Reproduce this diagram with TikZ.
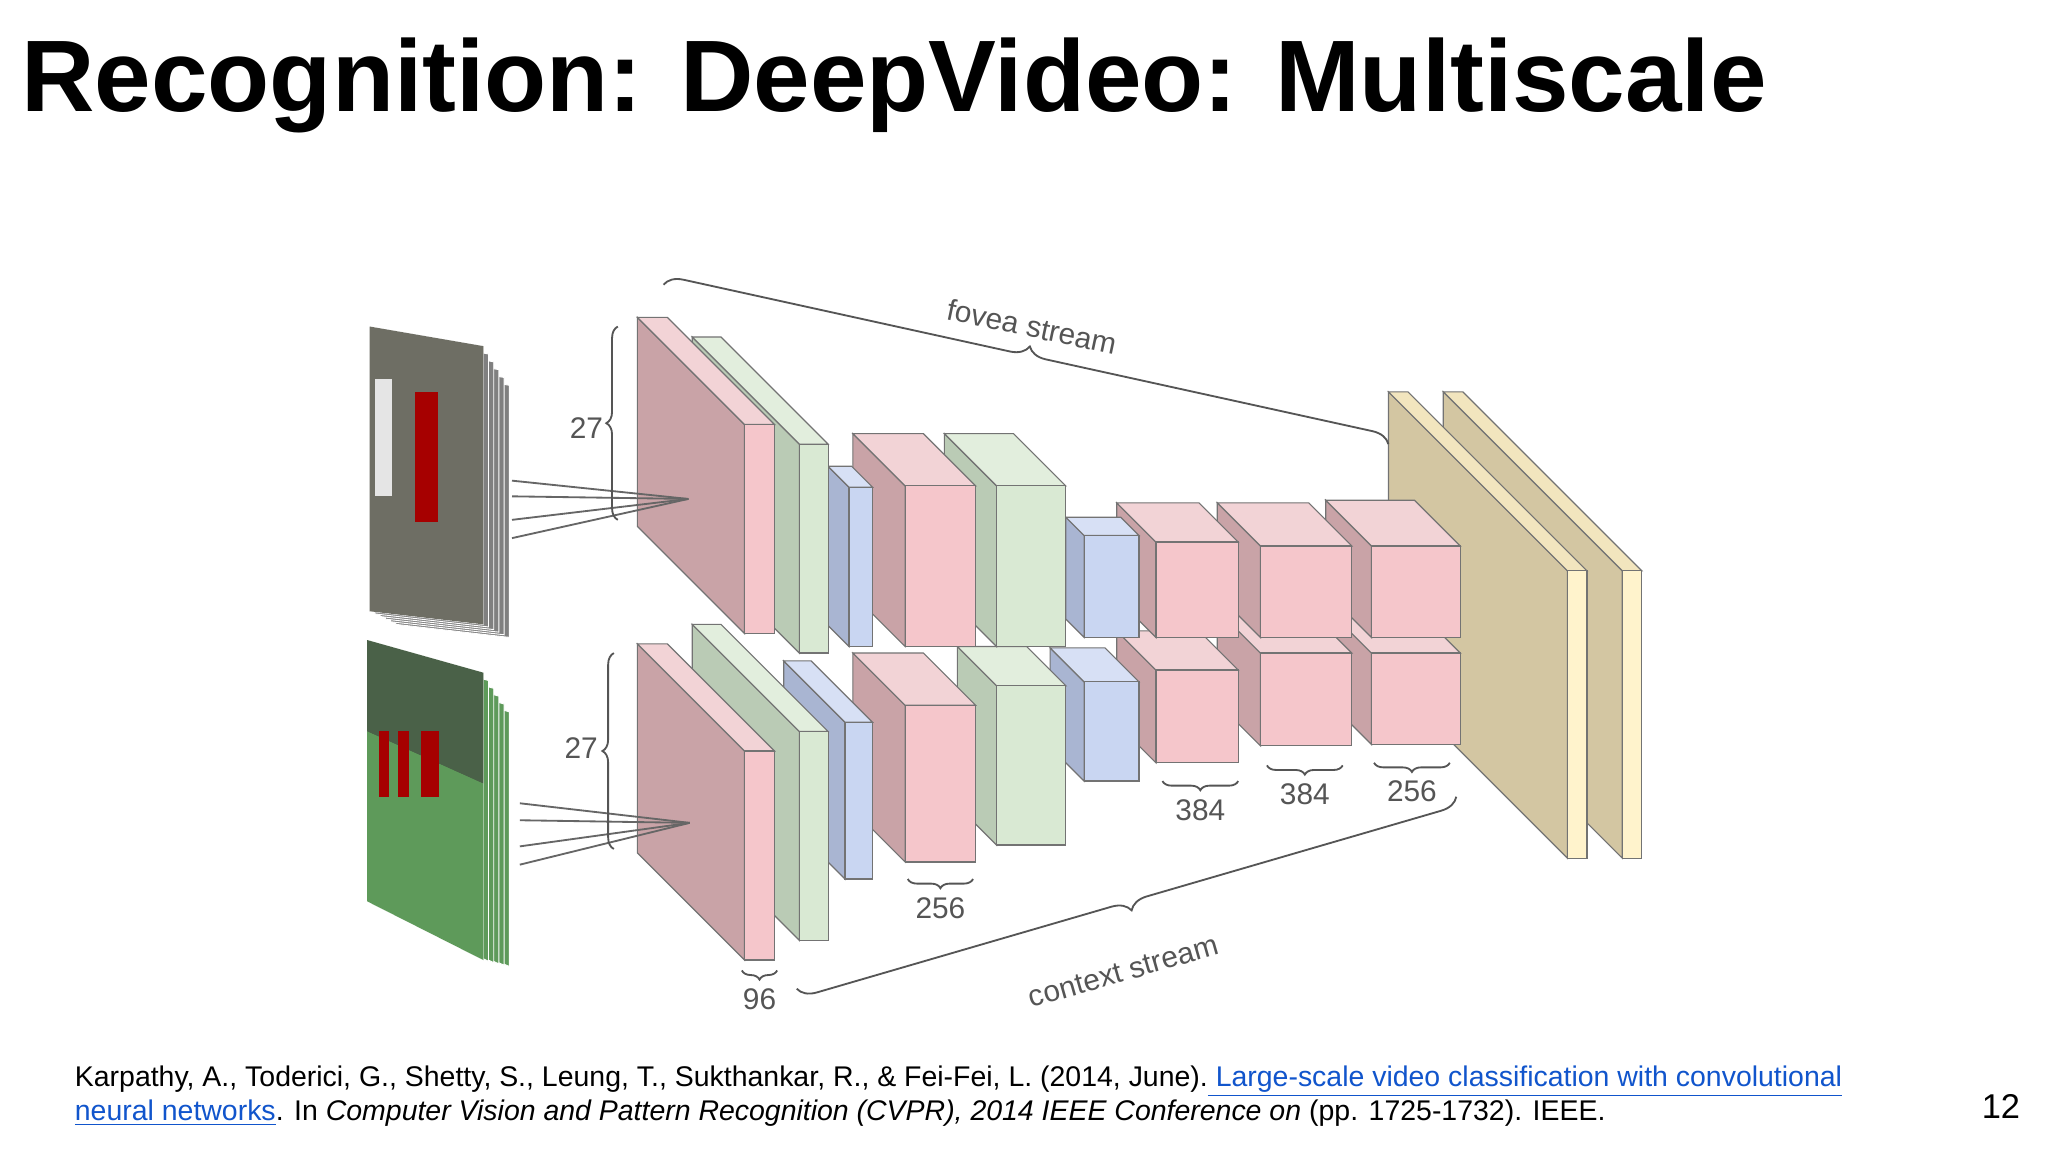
\documentclass[tikz,border=0pt]{standalone}
\usepackage{fontspec}
\setmainfont{Liberation Sans}
\usetikzlibrary{decorations.pathreplacing}
\definecolor{rF}{HTML}{F5C6CB}\definecolor{rS}{HTML}{C9A3A7}\definecolor{rT}{HTML}{F2D3D6}
\definecolor{gF}{HTML}{D9E9D3}\definecolor{gS}{HTML}{BACBB5}\definecolor{gT}{HTML}{E2EEDD}
\definecolor{bF}{HTML}{C9D6F2}\definecolor{bS}{HTML}{A9B5D2}\definecolor{bT}{HTML}{D7E0F5}
\definecolor{tS}{HTML}{D3C6A2}\definecolor{tF}{HTML}{FFF3CC}\definecolor{tT}{HTML}{F2E5BE}
\definecolor{lab}{HTML}{555555}\definecolor{link}{HTML}{1155CC}
\definecolor{grass}{HTML}{5E9A5A}\definecolor{bush}{HTML}{4A6148}\definecolor{track}{HTML}{6E6E64}
\newcommand\cube[8]{%
 \filldraw[edge,fill=#7] (#1,#2)--(#1,#2+#4)--(#1-#5,#2+#4-#5)--(#1-#5,#2-#5)--cycle;
 \filldraw[edge,fill=#8] (#1,#2)--(#1+#3,#2)--(#1+#3-#5,#2-#5)--(#1-#5,#2-#5)--cycle;
 \filldraw[edge,fill=#6] (#1,#2) rectangle (#1+#3,#2+#4);}
\tikzset{edge/.style={draw=black!55,line width=0.5pt},
 lbl/.style={text=lab,font=\fontsize{13}{15}\selectfont},
 brc/.style={draw=lab,line width=0.8pt,decorate,decoration={brace,amplitude=5pt}},
 conn/.style={draw=black!60,line width=0.8pt}}
\begin{document}
\begin{tikzpicture}[x=0.02cm,y=-0.02cm]
\useasboundingbox (0,0) rectangle (1568,882);
\fill[white] (0,0) rectangle (1568,882);
\node[anchor=base west,inner sep=0pt,font=\fontsize{44.3}{50}\selectfont\bfseries] (title) at (16,85) {Recognition: DeepVideo: Multiscale};
% frames
\foreach \i in {5,4,3,2,1,0}{
 \filldraw[draw=white,fill=black!50] (283+\i*4,250+\i*6)--(370+\i*4,265+\i*6)--(370+\i*4,478+\i*2)--(283+\i*4,468+\i*2)--cycle;
 \filldraw[draw=white,fill=grass] (281+\i*4,490+\i*6)--(370+\i*4,515+\i*6)--(370+\i*4,735+\i*1)--(281+\i*4,690+\i*2)--cycle;}
\fill[track] (283,250)--(370,265)--(370,478)--(283,468)--cycle;
\fill[bush] (281,490)--(370,515)--(370,600)--(281,560)--cycle;
\fill[grass] (281,560)--(370,600)--(370,735)--(281,690)--cycle;
\fill[red!65!black] (318,300) rectangle (335,400);
\fill[black!10] (287,290) rectangle (300,380);
\foreach \xx in {290,305,322,328}{\fill[red!65!black] (\xx,560) rectangle (\xx+8,610);}
% tan slabs
\cube{1242}{437}{15}{220}{137}{tF}{tS}{tT}
\cube{1200}{437}{15}{220}{137}{tF}{tS}{tT}
% bottom stream (right to left)
\cube{1050}{500}{68}{70}{35}{rF}{rS}{rT}
\cube{965}{500}{70}{71}{33}{rF}{rS}{rT}
\cube{885}{513}{63}{71}{30}{rF}{rS}{rT}
\cube{830}{522}{42}{76}{26}{bF}{bS}{bT}
\cube{763}{525}{53}{122}{30}{gF}{gS}{gT}
\cube{693}{540}{54}{120}{40}{rF}{rS}{rT}
\cube{647}{553}{21}{120}{47}{bF}{bS}{bT}
\cube{612}{560}{22}{160}{82}{gF}{gS}{gT}
\cube{570}{575}{23}{160}{82}{rF}{rS}{rT}
% top stream
\cube{1050}{418}{68}{70}{35}{rF}{rS}{rT}
\cube{965}{418}{70}{70}{33}{rF}{rS}{rT}
\cube{885}{415}{63}{73}{30}{rF}{rS}{rT}
\cube{830}{410}{42}{78}{14}{bF}{bS}{bT}
\cube{763}{372}{53}{123}{40}{gF}{gS}{gT}
\cube{693}{372}{54}{123}{40}{rF}{rS}{rT}
\cube{650}{373}{18}{122}{16}{bF}{bS}{bT}
\cube{612}{340}{22}{160}{82}{gF}{gS}{gT}
\cube{570}{325}{23}{160}{82}{rF}{rS}{rT}
% connectors
\coordinate (t0) at (527,382); \coordinate (b0) at (528,630);
\foreach \yy in {368,380,398,412}{\coordinate (ta) at (392,\yy); \draw[conn] (ta)--(t0);}
\foreach \yy in {615,628,648,662}{\coordinate (ba) at (398,\yy); \draw[conn] (ba)--(b0);}
% braces
\coordinate (f1) at (508,218); \coordinate (f2) at (1063,340);
\draw[brc,decoration={amplitude=8pt}] (f1)--(f2);
\node[lbl,rotate=-12] (fov) at (790,250) {fovea stream};
\coordinate (c1) at (610,757); \coordinate (c2) at (1115,610);
\draw[brc,decoration={amplitude=8pt,mirror}] (c1)--(c2);
\node[lbl,rotate=16] (ctx) at (860,744) {context stream};
\coordinate (a1) at (473,250); \coordinate (a2) at (473,398);
\draw[brc,decoration={amplitude=5pt,mirror}] (a1)--(a2);
\node[lbl] (n27a) at (449,328) {27};
\coordinate (a3) at (470,500); \coordinate (a4) at (470,650);
\draw[brc,decoration={amplitude=5pt,mirror}] (a3)--(a4);
\node[lbl] (n27b) at (445,573) {27};
\foreach \xa/\xb/\yy/\t/\nm in {568/595/743/96/k1, 695/745/673/256/k2, 890/948/598/384/k3, 970/1028/586/384/k4, 1052/1110/584/256/k5}{
 \coordinate (p1) at (\xa,\yy); \coordinate (p2) at (\xb,\yy);
 \draw[brc,decoration={amplitude=4pt,mirror}] (p1)--(p2);
 \node[lbl] (\nm) at ({(\xa+\xb)/2},\yy+22) {\t};}
% reference
\node[anchor=base west,inner sep=0pt,font=\fontsize{12.4}{14}\selectfont] (ref) at (57,832) {Karpathy, A., Toderici, G., Shetty, S., Leung, T., Sukthankar, R., \& Fei-Fei, L. (2014, June).\textcolor{link}{\underline{ Large-scale video classification with convolutional}}};
\node[anchor=base west,inner sep=0pt,font=\fontsize{12.4}{14}\selectfont] (ref2) at (57,858) {\textcolor{link}{\underline{neural networks}}. In \textit{Computer Vision and Pattern Recognition (CVPR), 2014 IEEE Conference on} (pp. 1725-1732). IEEE.};
\node[anchor=base east,inner sep=0pt,font=\fontsize{15}{18}\selectfont] (pg) at (1547,856) {12};
\end{tikzpicture}
\end{document}
